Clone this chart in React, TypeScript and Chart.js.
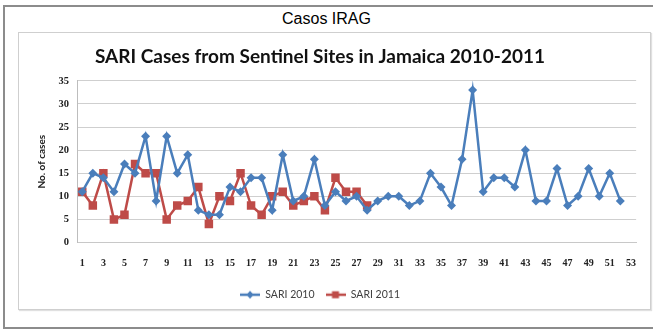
import React, { useEffect, useRef } from "react";
import { Chart, registerables } from "chart.js";

Chart.register(...registerables);

const weeks: string[] = [
  "1","2","3","4","5","6","7","8","9","10","11","12","13","14","15","16","17","18",
  "19","20","21","22","23","24","25","26","27","28","29","30","31","32","33","34","35",
  "36","37","38","39","40","41","42","43","44","45","46","47","48","49","50","51","52","53",
];

const sari2010: number[] = [
  11, 15, 14, 11, 17, 15, 23, 9, 23, 15,
  19, 7, 6, 6, 12, 11, 14, 14, 7, 19,
  9, 10, 18, 8, 11, 9, 10, 7, 9, 10,
  10, 8, 9, 15, 12, 8, 18, 33, 11, 14,
  14, 12, 20, 9, 9, 16, 8, 10, 16, 10, 15, 9,
];

const sari2011: number[] = [
  11, 8, 15, 5, 6, 17, 15, 15, 5, 8,
  9, 12, 4, 10, 9, 15, 8, 6, 10, 11,
  8, 9, 10, 7, 14, 11, 11, 8,
];

const seriesNames: string[] = ["SARI 2010", "SARI 2011"];
const pageTitle = "Casos IRAG";
const chartTitle = "SARI Cases from Sentinel Sites in Jamaica 2010-2011";
const yTitle = "No. of cases";

const BLUE = "#4a7ebb";
const RED = "#be4b48";

function legendIcon(color: string, style: "diamond" | "square"): HTMLCanvasElement {
  const c = document.createElement("canvas");
  c.width = 20;
  c.height = 10;
  const ctx = c.getContext("2d")!;
  ctx.strokeStyle = color;
  ctx.lineWidth = 2.5;
  ctx.beginPath();
  ctx.moveTo(0, 5);
  ctx.lineTo(20, 5);
  ctx.stroke();
  ctx.fillStyle = color;
  ctx.beginPath();
  if (style === "diamond") {
    ctx.moveTo(10, 1);
    ctx.lineTo(13.5, 5);
    ctx.lineTo(10, 9);
    ctx.lineTo(6.5, 5);
    ctx.closePath();
  } else {
    ctx.rect(6.5, 1.5, 7, 7);
  }
  ctx.fill();
  return c;
}

export default function App() {
  const ref = useRef<HTMLCanvasElement | null>(null);

  useEffect(() => {
    if (!ref.current) return;
    const icons = [legendIcon(BLUE, "diamond"), legendIcon(RED, "square")];
    const chart = new Chart(ref.current, {
      type: "line",
      data: {
        labels: weeks,
        datasets: [
          {
            label: seriesNames[0],
            data: sari2010,
            borderColor: BLUE,
            backgroundColor: BLUE,
            borderWidth: 2.5,
            pointStyle: "rectRot",
            pointRadius: 4.5,
            pointBorderWidth: 0,
            tension: 0,
          },
          {
            label: seriesNames[1],
            data: sari2011,
            borderColor: RED,
            backgroundColor: RED,
            borderWidth: 2.5,
            pointStyle: "rect",
            pointRadius: 6,
            pointBorderWidth: 0,
            tension: 0,
          },
        ],
      },
      options: {
        animation: false,
        responsive: false,
        maintainAspectRatio: false,
        layout: { padding: { left: -16, right: 13, top: 0, bottom: 0 } },
        plugins: {
          title: {
            display: true,
            text: chartTitle,
            color: "#111",
            font: { family: "Lato", weight: "bold", size: 19 },
            padding: { top: 13, bottom: 13 },
          },
          legend: {
            position: "bottom",
            labels: {
              usePointStyle: true,
              pointStyleWidth: 20,
              boxHeight: 10,
              padding: 11,
              color: "#404040",
              font: { family: "Lato", size: 10.5 },
              generateLabels: (ch: any) =>
                ch.data.datasets.map((ds: any, i: number) => ({
                  text: ds.label,
                  pointStyle: icons[i],
                  fillStyle: ds.borderColor,
                  strokeStyle: ds.borderColor,
                  lineWidth: 0,
                  hidden: false,
                  datasetIndex: i,
                  fontColor: "#404040",
                })),
            },
          },
          tooltip: { enabled: false },
        },
        scales: {
          x: {
            offset: true,
            afterFit: (s: any) => {
              s.height = 36;
            },
            grid: { display: false, drawTicks: false },
            border: { display: true, color: "#c8c8c8", width: 1 },
            ticks: {
              autoSkip: false,
              maxRotation: 0,
              minRotation: 0,
              padding: 15,
              color: "#222",
              font: { family: "Liberation Serif", weight: "bold", size: 10 },
              callback: (_v: any, i: number) => (i % 2 === 0 ? weeks[i] : ""),
            },
          },
          y: {
            min: 0,
            max: 35,
            afterFit: (s: any) => {
              s.width = 75;
            },
            grid: { color: "#cfcfcf", lineWidth: 1, drawTicks: false },
            border: { display: true, color: "#bdbdbd", width: 1 },
            ticks: {
              stepSize: 5,
              padding: 8,
              color: "#222",
              font: { family: "Liberation Serif", weight: "bold", size: 10.5 },
            },
            title: {
              display: true,
              text: yTitle,
              color: "#222",
              font: { family: "Lato", weight: "bold", size: 10 },
              padding: { top: 34, bottom: 0 },
            },
          },
        },
      },
    });
    return () => chart.destroy();
  }, []);

  return (
    <div
      style={{
        position: "fixed",
        left: 0,
        top: 0,
        width: 653,
        height: 329,
        background: "#fff",
        overflow: "hidden",
      }}
    >
      <div
        style={{
          position: "absolute",
          left: 3,
          top: 5,
          width: 700,
          height: 320,
          border: "2px solid #8c8c8c",
        }}
      />
      <div
        style={{
          position: "absolute",
          left: 0,
          top: 9,
          width: 653,
          textAlign: "center",
          fontFamily: "'Liberation Sans', Arial, sans-serif",
          fontSize: 16,
          lineHeight: "20px",
          color: "#000",
        }}
      >
        {pageTitle}
      </div>
      <div
        style={{
          position: "absolute",
          left: 18,
          top: 32,
          width: 631,
          height: 276,
          border: "1px solid #cfcfcf",
          boxShadow: "1px 1px 1px #e0e0e0",
        }}
      />
      <canvas
        ref={ref}
        width={633}
        height={278}
        style={{ position: "absolute", left: 18, top: 32, width: 633, height: 278 }}
      />
    </div>
  );
}
